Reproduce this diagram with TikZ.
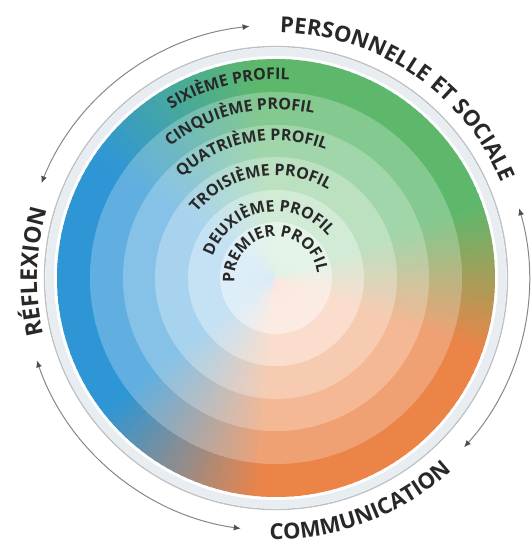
\documentclass[tikz,border=0pt]{standalone}
\usepackage{fontspec}
\setmainfont{Open Sans}
\usetikzlibrary{decorations.text,arrows.meta}

\definecolor{cG}{RGB}{93,184,108}
\definecolor{cB}{RGB}{47,150,214}
\definecolor{cO}{RGB}{236,132,72}
\definecolor{txt}{RGB}{40,40,40}
\definecolor{arcgray}{RGB}{135,135,135}
\definecolor{tipgray}{RGB}{80,80,80}
\definecolor{bandline}{RGB}{190,193,197}
\definecolor{bandfill}{RGB}{232,237,242}

\newcommand\ringfont{\bfseries\fontsize{16}{16}\selectfont\color{txt}}
\newcommand\outerfont{\bfseries\fontsize{22}{22}\selectfont\color{txt}}
\newcommand\reflfont{\bfseries\fontsize{23}{23}\selectfont\color{txt}}

% one wedge of one ring: #1 start angle, #2 radius, #3 tint, #4 colour
\newcommand\onewedge[4]{%
  \fill[#4!#3!white] (0,0) -- (#1:#2 pt) arc[start angle=#1, end angle=#1+2.7, radius=#2 pt] -- cycle;%
}
% one full ring disc with conic colouring: #1 radius, #2 tint
\newcommand\ringpass[2]{%
  \foreach \a in {-20,-18,...,18}{\pgfmathsetmacro\t{(\a+21)/40*100}\colorlet{wc}{cG!\t!cO}\onewedge{\a}{#1}{#2}{wc}}%
  \foreach \a in {20,22,...,94}{\onewedge{\a}{#1}{#2}{cG}}%
  \foreach \a in {96,98,...,144}{\pgfmathsetmacro\t{(\a+1-96)/50*100}\colorlet{wc}{cB!\t!cG}\onewedge{\a}{#1}{#2}{wc}}%
  \foreach \a in {146,148,...,216}{\onewedge{\a}{#1}{#2}{cB}}%
  \foreach \a in {218,220,...,264}{\pgfmathsetmacro\t{(\a+1-218)/48*100}\colorlet{wc}{cO!\t!cB}\onewedge{\a}{#1}{#2}{wc}}%
  \foreach \a in {266,268,...,338}{\onewedge{\a}{#1}{#2}{cO}}%
}

\tikzset{
  cyclearc/.style={draw=arcgray, line width=1pt, {Latex[length=7pt,width=6pt,color=tipgray]}-{Latex[length=7pt,width=6pt,color=tipgray]}},
  curvedlabel/.style={decorate, decoration={text along path, text align=center, text={#1}}}
}

\begin{document}
\begin{tikzpicture}
\useasboundingbox (-276pt,-266pt) rectangle (255pt,278pt);

% outer pale band
\draw[line width=1.4pt, bandline] (0,0) circle[radius=231.5pt];
\fill[bandfill] (0,0) circle[radius=230.5pt];
\fill[white] (0,0) circle[radius=222pt];

% coloured rings, outermost first
\foreach \R/\f in {219/100,186/76,153/58,121/42,88/28,56/16}{\ringpass{\R}{\f}}

% ring labels
\path[curvedlabel={|\ringfont|SIXIÈME PROFIL}] (164:198.5pt) arc[start angle=164, end angle=44, radius=198.5pt];
\path[curvedlabel={|\ringfont|CINQUIÈME PROFIL}] (163:168.5pt) arc[start angle=163, end angle=43, radius=168.5pt];
\path[curvedlabel={|\ringfont|QUATRIÈME PROFIL}] (171:137.5pt) arc[start angle=171, end angle=31, radius=137.5pt];
\path[curvedlabel={|\ringfont|TROISIÈME PROFIL}] (190:102.5pt) arc[start angle=190, end angle=10, radius=102.5pt];
\path[curvedlabel={|\ringfont|DEUXIÈME PROFIL}] (230:66.5pt) arc[start angle=230, end angle=-30, radius=66.5pt];
\path[curvedlabel={|\ringfont|PREMIER PROFIL}] (266:41.5pt) arc[start angle=266, end angle=-73, radius=41.5pt];

% outer labels
\path[curvedlabel={|\outerfont|PERSONNELLE ET SOCIALE}] (150:245pt) arc[start angle=150, end angle=-38, radius=245pt];
\path[curvedlabel={|\reflfont|RÉFLEXION}] (260:239pt) arc[start angle=260, end angle=97, radius=239pt];
\path[curvedlabel={|\outerfont|COMMUNICATION}] (200:261pt) arc[start angle=200, end angle=381, radius=261pt];

% cycle arrows
\coordinate (a1s) at (96:253pt);
\coordinate (a2s) at (199:253pt);
\coordinate (a3s) at (318:253pt);
\draw[cyclearc] (a1s) arc[start angle=96, end angle=158, radius=253pt];
\draw[cyclearc] (a2s) arc[start angle=199, end angle=262, radius=253pt];
\draw[cyclearc] (a3s) arc[start angle=318, end angle=376, radius=253pt];
\end{tikzpicture}
\end{document}
